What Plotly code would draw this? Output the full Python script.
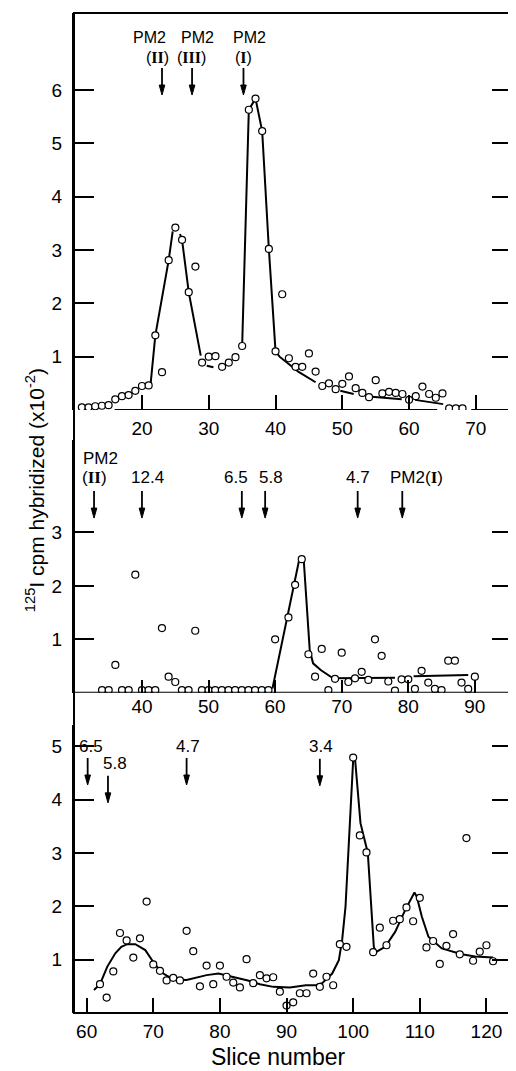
import plotly.graph_objects as go

# top panel: slices 11-68
slice_a = list(range(11, 69))
cpm_a = [0.05, 0.05, 0.07, 0.08, 0.09, 0.20, 0.26, 0.28, 0.36, 0.45,
         0.46, 1.40, 0.71, 2.81, 3.42, 3.19, 2.21, 2.69, 0.89, 1.00,
         1.01, 0.81, 0.89, 0.99, 1.20, 5.63, 5.84, 5.23, 3.02, 1.10,
         2.17, 0.97, 0.81, 0.81, 1.06, 0.72, 0.45, 0.50, 0.39, 0.49,
         0.63, 0.41, 0.32, 0.24, 0.56, 0.31, 0.34, 0.32, 0.30, 0.19,
         0.26, 0.44, 0.30, 0.23, 0.31, 0.03, 0.03, 0.03]
fit_a_x = [21.3, 22.0, 24.0, 24.6, None, 25.7, 26.0, 27.0, 28.8, None, 29.7, 30.7, None,
           35.0, 36.0, 37.0, 38.0, 39.0, 40.0, 40.6, 42.4, 43.4, 46.0, None,
           49.7, 51.7, None, 54.4, 58.9, None, 60.9, 65.1]
fit_a_y = [0.50, 1.40, 2.81, 3.35, None, 3.30, 3.19, 2.21, 1.02, None, 0.83, 0.80, None,
           1.20, 5.63, 5.84, 5.23, 3.02, 1.10, 1.00, 0.83, 0.72, 0.52, None,
           0.36, 0.30, None, 0.25, 0.20, None, 0.19, 0.11]

# middle panel: slices 34-90 (61 not plotted)
slice_b = list(range(34, 61)) + list(range(62, 91))
cpm_b = [0.05, 0.05, 0.52, 0.05, 0.05, 2.21, 0.05, 0.05, 0.05, 1.21,
         0.30, 0.20, 0.05, 0.05, 1.16, 0.05, 0.05, 0.05, 0.05, 0.05,
         0.05, 0.05, 0.05, 0.05, 0.05, 0.05, 1.00,
         1.41, 2.02, 2.50, 0.72, 0.30, 0.82, 0.05, 0.26, 0.75, 0.20,
         0.27, 0.39, 0.24, 1.00, 0.69, 0.21, 0.04, 0.25, 0.25, 0.07,
         0.41, 0.19, 0.07, 0.05, 0.60, 0.60, 0.19, 0.07, 0.30]
fit_b_x = [59.6, 61.8, 62.9, 63.6, 64.3, 65.2, 65.7, 66.9, 68.7, 78.0, None, 80.8, 89.0]
fit_b_y = [0.08, 1.41, 2.02, 2.48, 2.48, 0.80, 0.55, 0.42, 0.27, 0.28, None, 0.31, 0.33]

# bottom panel: slices 62-121
slice_c = list(range(62, 122))
cpm_c = [0.54, 0.29, 0.78, 1.50, 1.36, 1.04, 1.40, 2.09, 0.91, 0.79,
         0.61, 0.66, 0.61, 1.54, 1.16, 0.50, 0.89, 0.54, 0.89, 0.68,
         0.57, 0.48, 1.01, 0.56, 0.71, 0.65, 0.67, 0.40, 0.14, 0.20,
         0.37, 0.37, 0.74, 0.49, 0.68, 0.52, 1.29, 1.24, 4.79, 3.33,
         3.01, 1.14, 1.60, 1.27, 1.73, 1.76, 1.98, 1.72, 2.16, 1.23,
         1.35, 0.92, 1.26, 1.48, 1.10, 3.28, 0.98, 1.15, 1.27, 0.97]
fit_c_x = [61.1, 62.0, 63.1, 64.3, 65.2, 66.1, 67.3, 68.8, 70.3, 71.5, 73.0, 75.0, 78.0,
           79.8, 81.5, 84.2, 86.0, 88.0, 90.5, 92.9, 94.4, 95.35, 96.85, 97.85, 98.35,
           98.85, 100.0, 100.3, 101.1, 102.2, 103.1, 103.4, 104.8, 106.3, 107.8, 109.2,
           109.55, 110.3, 111.3, 113.3, 116.3, 118.3, 121.0]
fit_c_y = [0.43, 0.54, 0.87, 1.12, 1.24, 1.29, 1.29, 1.18, 0.90, 0.74, 0.63, 0.62, 0.71,
           0.74, 0.69, 0.61, 0.54, 0.49, 0.48, 0.52, 0.52, 0.56, 0.74, 0.99, 1.37,
           1.99, 4.74, 4.74, 3.56, 3.00, 1.24, 1.14, 1.24, 1.52, 1.93, 2.26,
           2.18, 1.81, 1.43, 1.21, 1.10, 1.06, 1.04]

# marker positions (slice numbers) and their labels
ROMAN = "<span style='font-family:Liberation Serif, serif; font-weight:bold'>%s</span>"
marks_a_x = [23.0, 27.5, 35.2]
marks_a_top = ["PM2", "PM2", "PM2"]
marks_a_sub = ["II", "III", "I"]
marks_b_x = [32.8, 40.0, 55.0, 58.5, 72.4, 79.1]
marks_b_lab = ["(" + ROMAN % "II" + ")", "12.4", "6.5", "5.8", "4.7",
               "PM2(" + ROMAN % "I" + ")"]
marks_c_x = [60.15, 63.2, 75.0, 95.0]
marks_c_lab = ["6.5", "5.8", "4.7", "3.4"]

FONT = "Liberation Sans, Arial, sans-serif"
BLACK = "black"

fig = go.Figure()

for fx, fy, xa, ya in [(fit_a_x, fit_a_y, "x", "y"), (fit_b_x, fit_b_y, "x2", "y2"),
                       (fit_c_x, fit_c_y, "x3", "y3")]:
    fig.add_trace(go.Scatter(x=fx, y=fy, xaxis=xa, yaxis=ya, mode="lines",
                             line=dict(color=BLACK, width=2), connectgaps=False,
                             hoverinfo="skip"))

for sx, sy, xa, ya in [(slice_a, cpm_a, "x", "y"), (slice_b, cpm_b, "x2", "y2"),
                       (slice_c, cpm_c, "x3", "y3")]:
    fig.add_trace(go.Scatter(x=sx, y=sy, xaxis=xa, yaxis=ya, mode="markers",
                             marker=dict(symbol="circle", size=7, color="white",
                                         line=dict(color=BLACK, width=1.2))))


def xaxis(rng, vals, anchor, ticklen, standoff=5):
    return dict(range=rng, tickvals=vals, anchor=anchor, domain=[0, 1],
                ticks="inside", ticklen=ticklen, tickwidth=2, tickcolor=BLACK,
                showline=False, showgrid=False, zeroline=False,
                ticklabelstandoff=standoff,
                tickfont=dict(family=FONT, size=19, color=BLACK))


def yaxis(dom, rng, vals, anchor):
    return dict(domain=dom, range=rng, tickvals=vals, anchor=anchor,
                ticks="inside", ticklen=20, tickwidth=2, tickcolor=BLACK,
                showline=True, linewidth=2, linecolor=BLACK, mirror="ticks",
                showgrid=False, zeroline=False, ticklabelstandoff=6,
                tickfont=dict(family=FONT, size=19, color=BLACK))


# the page adds an 8px body margin, so the figure is 8px smaller than the window
fig.update_layout(
    width=508, height=1063,
    margin=dict(l=66, r=2, t=5, b=58),
    paper_bgcolor="white", plot_bgcolor="white",
    showlegend=False,
    xaxis=xaxis([9.82, 75.41], [20, 30, 40, 50, 60, 70], "y", 15),
    yaxis=yaxis([0.603, 1.0], [0, 7.444], [1, 2, 3, 4, 5, 6], "x"),
    xaxis2=xaxis([29.79, 95.58], [40, 50, 60, 70, 80, 90], "y2", 13, 0),
    yaxis2=yaxis([0.3203, 0.573], [0, 4.732], [1, 2, 3], "x2"),
    xaxis3=xaxis([58.10, 123.84], [60, 70, 80, 90, 100, 110, 120], "y3", 15),
    yaxis3=yaxis([0, 0.288], [0, 5.4], [1, 2, 3, 4, 5], "x3"),
)

shapes = [
    # outer frame
    dict(type="rect", xref="paper", yref="paper", x0=0, x1=1, y0=0, y1=1,
         line=dict(color=BLACK, width=2)),
    # broken baseline of the top panel
    dict(type="line", xref="x", yref="y", x0=15.9, x1=64.2, y0=0, y1=0,
         line=dict(color=BLACK, width=2)),
    dict(type="line", xref="x", yref="y", x0=69.3, x1=75.41, y0=0, y1=0,
         line=dict(color=BLACK, width=2)),
    # baseline of the middle panel
    dict(type="line", xref="x2", yref="y2", x0=29.79, x1=95.58, y0=0, y1=0,
         line=dict(color=BLACK, width=2)),
]


def arrow(xref, yref, x, y):
    # shaft + narrow filled head, sized in pixels
    return [
        dict(type="line", xref=xref, yref=yref, xsizemode="pixel", ysizemode="pixel",
             xanchor=x, yanchor=y, x0=0, x1=0, y0=8, y1=27,
             line=dict(color=BLACK, width=1.8)),
        dict(type="path", xref=xref, yref=yref, xsizemode="pixel", ysizemode="pixel",
             xanchor=x, yanchor=y, path="M-2.8,10 L2.8,10 L0,0 Z",
             fillcolor=BLACK, line=dict(color=BLACK, width=1)),
    ]


annotations = []


def label(xref, yref, x, y, text, xshift, yshift, size=17):
    annotations.append(dict(xref=xref, yref=yref, x=x, y=y, text=text, showarrow=False,
                            xshift=xshift, yshift=yshift, xanchor="center",
                            yanchor="middle",
                            font=dict(family=FONT, size=size, color=BLACK)))


# top panel markers
tip_a = 5.906
for mx, top, sub, s_top, s_sub in zip(marks_a_x, marks_a_top, marks_a_sub,
                                      [-13, 5, 6], [-5, -1, 0]):
    shapes += arrow("x", "y", mx, tip_a)
    label("x", "y", mx, tip_a, top, s_top, 58, 16)
    label("x", "y", mx, tip_a, "(" + ROMAN % sub + ")", s_sub, 38, 16)

# middle panel markers
tip_b = 3.27
for mx, lab, s in zip(marks_b_x, marks_b_lab, [0, 6, -6, 6, 0, 14]):
    shapes += arrow("x2", "y2", mx, tip_b)
    label("x2", "y2", mx, tip_b, lab, s, 41)
label("x2", "y2", marks_b_x[0], tip_b, "PM2", 6, 60)

# bottom panel markers
tips_c = [4.275, 3.94, 4.275, 4.26]
for mx, lab, tip, s in zip(marks_c_x, marks_c_lab, tips_c, [3, 7, 1, 1]):
    shapes += arrow("x3", "y3", mx, tip)
    label("x3", "y3", mx, tip, lab, s, 39)

# axis titles
annotations.append(dict(xref="paper", yref="paper", x=0.466, y=-0.044,
                        text="Slice number", showarrow=False,
                        xanchor="center", yanchor="middle",
                        font=dict(family=FONT, size=23, color=BLACK)))
annotations.append(dict(xref="paper", yref="paper", x=-0.0886, y=0.523,
                        text="<sup>125</sup>I cpm hybridized (x10<sup>-2</sup>)",
                        textangle=-90, showarrow=False,
                        xanchor="center", yanchor="middle",
                        font=dict(family=FONT, size=21, color=BLACK)))

fig.update_layout(shapes=shapes, annotations=annotations)

fig.write_html("out.html")
